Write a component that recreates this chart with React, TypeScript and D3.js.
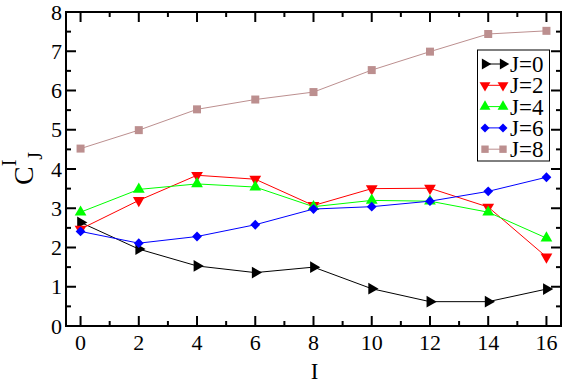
import React from "react";
import * as d3 from "d3";

const I_VALUES = [0, 2, 4, 6, 8, 10, 12, 14, 16];
const J0 = [2.64, 1.96, 1.53, 1.36, 1.5, 0.95, 0.62, 0.62, 0.94];
const J2 = [2.47, 3.2, 3.84, 3.74, 3.07, 3.5, 3.51, 3.03, 1.76];
const J4 = [2.9, 3.48, 3.62, 3.54, 3.04, 3.2, 3.18, 2.9, 2.24];
const J6 = [2.41, 2.11, 2.28, 2.58, 2.98, 3.04, 3.18, 3.43, 3.79];
const J8 = [4.52, 4.99, 5.52, 5.77, 5.96, 6.52, 6.99, 7.44, 7.52];
const LABELS = ["J=0", "J=2", "J=4", "J=6", "J=8"];
const X_TICKS = [0, 2, 4, 6, 8, 10, 12, 14, 16];
const Y_TICKS = [0, 1, 2, 3, 4, 5, 6, 7, 8];

const W = 565;
const H = 381;
const left = 66, right = 561, top = 12, bottom = 326;
const FONT = "'Liberation Serif', 'Times New Roman', serif";

const series = [
  { name: LABELS[0], values: J0, color: "#000000", symbol: d3.symbolTriangle, rotate: 90, size: 60 },
  { name: LABELS[1], values: J2, color: "#ff0000", symbol: d3.symbolTriangle, rotate: 180, size: 60 },
  { name: LABELS[2], values: J4, color: "#00ff00", symbol: d3.symbolTriangle, rotate: 0, size: 60 },
  { name: LABELS[3], values: J6, color: "#0000ff", symbol: d3.symbolSquare, rotate: 45, size: 48 },
  { name: LABELS[4], values: J8, color: "#bc8f8f", symbol: d3.symbolSquare, rotate: 0, size: 64 },
];

export default function App() {
  const x = d3.scaleLinear().domain([-0.5, 16.5]).range([left, right]);
  const y = d3.scaleLinear().domain([0, 8]).range([bottom, top]);

  const line = d3
    .line<number>()
    .x((_, i) => x(I_VALUES[i]))
    .y((d) => y(d));

  const xMinor = d3.range(0, 17, 1);
  const yMinor = d3.range(0, 8.01, 0.5);

  const legendX = 477.5, legendY = 50, legendW = 72, legendH = 111;
  const rowY = (i: number) => 64 + i * 21.3;

  return (
    <svg width={W} height={H} style={{ position: "absolute", left: 0, top: 0, background: "#fff" }}>
      {/* data lines */}
      {series.map((s) => (
        <g key={s.name}>
          <path d={line(s.values) || ""} fill="none" stroke={s.color} strokeWidth={1} />
          {s.values.map((v, i) => (
            <path
              key={i}
              d={d3.symbol().type(s.symbol).size(s.size)() || ""}
              transform={`translate(${x(I_VALUES[i])},${y(v)}) rotate(${s.rotate})`}
              fill={s.color}
            />
          ))}
        </g>
      ))}

      {/* frame */}
      <rect x={left} y={top} width={right - left} height={bottom - top} fill="none" stroke="#000" strokeWidth={2} />

      {/* x ticks, bottom and top */}
      {xMinor.map((t) => {
        const len = t % 2 === 0 ? 10 : 5;
        return (
          <g key={"x" + t} stroke="#000" strokeWidth={2}>
            <line x1={x(t)} x2={x(t)} y1={bottom} y2={bottom - len} />
            <line x1={x(t)} x2={x(t)} y1={top} y2={top + len} />
          </g>
        );
      })}
      {/* y ticks, left and right */}
      {yMinor.map((t) => {
        const len = Number.isInteger(t) ? 10 : 5;
        return (
          <g key={"y" + t} stroke="#000" strokeWidth={2}>
            <line x1={left} x2={left + len} y1={y(t)} y2={y(t)} />
            <line x1={right} x2={right - len} y1={y(t)} y2={y(t)} />
          </g>
        );
      })}

      {X_TICKS.map((t) => (
        <text key={"xl" + t} x={x(t)} y={350} textAnchor="middle" fontFamily={FONT} fontSize={22}>
          {t}
        </text>
      ))}
      {Y_TICKS.map((t) => (
        <text key={"yl" + t} x={62} y={y(t) + 7.5} textAnchor="end" fontFamily={FONT} fontSize={22}>
          {t}
        </text>
      ))}

      {/* axis titles */}
      <text x={(left + right) / 2 + 1} y={379} textAnchor="middle" fontFamily={FONT} fontSize={23}>
        I
      </text>
      <text transform="translate(33,185) rotate(-90)" fontFamily={FONT}>
        <tspan fontSize={28}>C</tspan>
        <tspan fontSize={20} dy={-17}>I</tspan>
        <tspan fontSize={20} dy={26}>J</tspan>
      </text>

      {/* legend */}
      <rect x={legendX} y={legendY} width={legendW} height={legendH} fill="#fff" stroke="#000" strokeWidth={1} />
      {series.map((s, i) => (
        <g key={"lg" + s.name}>
          <line x1={485} x2={503} y1={rowY(i)} y2={rowY(i)} stroke={s.color} strokeWidth={1} />
          {[485, 503].map((px) => (
            <path
              key={px}
              d={d3.symbol().type(s.symbol).size(s.size * 0.85)() || ""}
              transform={`translate(${px},${rowY(i)}) rotate(${s.rotate})`}
              fill={s.color}
            />
          ))}
          <text x={510} y={rowY(i) + 8} fontFamily={FONT} fontSize={23}>
            {s.name}
          </text>
        </g>
      ))}
    </svg>
  );
}
